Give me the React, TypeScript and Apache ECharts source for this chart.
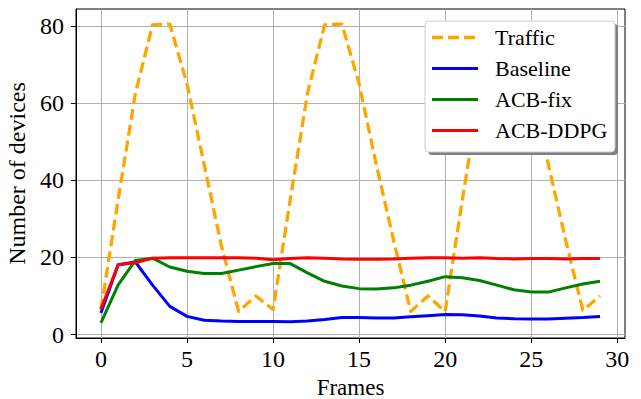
import React, { useEffect, useRef } from "react";
import * as echarts from "echarts";

const frames = [0, 1, 2, 3, 4, 5, 6, 7, 8, 9, 10, 11, 12, 13, 14, 15, 16, 17, 18, 19, 20, 21, 22, 23, 24, 25, 26, 27, 28, 29];
const traffic = [6.5, 35, 62.5, 80.3, 80.5, 65, 44, 23, 6, 10, 6.5, 35, 62.5, 80.3, 80.5, 65, 44, 24.5, 6, 10, 6, 35, 62.5, 80.3, 80.5, 65, 44, 24.5, 6.3, 10];
const baseline = [5.6, 18.1, 18.8, 12.8, 7.3, 4.7, 3.7, 3.5, 3.4, 3.4, 3.4, 3.3, 3.5, 3.9, 4.4, 4.4, 4.3, 4.3, 4.6, 4.9, 5.2, 5.1, 4.8, 4.3, 4.1, 4.0, 4.0, 4.2, 4.4, 4.7];
const acbFix = [3.0, 12.9, 19.2, 19.8, 17.5, 16.4, 15.8, 15.8, 16.7, 17.6, 18.4, 18.4, 16.0, 13.8, 12.6, 11.9, 11.8, 12.1, 12.8, 13.8, 15.0, 14.7, 14.0, 12.8, 11.6, 11.0, 11.0, 12.1, 13.1, 13.8];
const acbDdpg = [6.6, 18.1, 18.6, 19.8, 19.9, 19.9, 19.9, 19.9, 19.9, 19.8, 19.4, 19.7, 19.9, 19.8, 19.6, 19.5, 19.5, 19.6, 19.8, 19.9, 19.9, 19.8, 19.9, 19.7, 19.6, 19.7, 19.7, 19.6, 19.7, 19.7];

const seriesNames = ["Traffic", "Baseline", "ACB-fix", "ACB-DDPG"];
const seriesColors = ["#FFA500", "#0000FF", "#008000", "#FF0000"];
const xTicks = [0, 5, 10, 15, 20, 25, 30];
const yTicks = [0, 20, 40, 60, 80];
const xLabel = "Frames";
const yLabel = "Number of devices";

const FONT = "'Liberation Serif', 'Times New Roman', serif";

export default function App() {
  const ref = useRef<HTMLDivElement>(null);
  useEffect(() => {
    if (!ref.current) return;
    const chart = echarts.init(ref.current, undefined, { renderer: "svg" });
    const allData = [traffic, baseline, acbFix, acbDdpg];
    const series = allData.map((d, i) => ({
      name: seriesNames[i],
      type: "line",
      data: frames.map((f, j) => [f, d[j]]),
      symbol: "none",
      z: i === 0 ? 2 : 3 + i,
      lineStyle: {
        color: seriesColors[i],
        width: i === 0 ? 3.3 : 3,
        type: i === 0 ? [11, 5] : "solid",
        cap: "butt",
        join: "round",
      },
    }));

    const lgX = 425, lgY = 21, lgW = 190, lgH = 131;
    const legendEls: any[] = [
      { type: "rect", shape: { x: lgX + 3, y: lgY + 3, width: lgW, height: lgH, r: 4 }, style: { fill: "#808080" }, z: 100 },
      { type: "rect", shape: { x: lgX, y: lgY, width: lgW, height: lgH, r: 4 }, style: { fill: "#ffffff", stroke: "#cccccc", lineWidth: 1 }, z: 101 },
    ];
    seriesNames.forEach((n, i) => {
      const cy = lgY + 16.5 + i * 31;
      legendEls.push({
        type: "line",
        shape: { x1: lgX + 7, y1: cy, x2: lgX + 53, y2: cy },
        style: { stroke: seriesColors[i], lineWidth: i === 0 ? 3.3 : 3, lineDash: i === 0 ? [11, 5] : null },
        z: 102,
      });
      legendEls.push({
        type: "text",
        x: lgX + 70,
        y: cy,
        style: { text: n, fill: "#000", font: `22px ${FONT}`, textVerticalAlign: "middle", verticalAlign: "middle" },
        z: 102,
      });
    });

    chart.setOption({
      animation: false,
      backgroundColor: "#ffffff",
      grid: { left: 76, top: 9, right: 16, bottom: 61, show: true, borderColor: "#000", borderWidth: 1, backgroundColor: "transparent", containLabel: false, outerBoundsMode: "none" },
      xAxis: {
        type: "value",
        min: -1.45,
        max: 30.45,
        name: xLabel,
        nameLocation: "middle",
        nameGap: 36,
        nameTextStyle: { fontFamily: FONT, fontSize: 23, color: "#000" },
        axisLine: { show: true, onZero: false, lineStyle: { color: "#000", width: 1 } },
        axisTick: { show: true, inside: false, length: 5, customValues: xTicks, lineStyle: { color: "#000", width: 1 } },
        axisLabel: { customValues: xTicks, fontFamily: FONT, fontSize: 24, color: "#000", margin: 9 },
        splitLine: { show: true, lineStyle: { color: "#b0b0b0", width: 1 } },
      },
      yAxis: {
        type: "value",
        min: -0.9,
        max: 84.4,
        name: yLabel,
        nameLocation: "middle",
        nameGap: 36,
        nameTextStyle: { fontFamily: FONT, fontSize: 24, color: "#000" },
        axisLine: { show: true, onZero: false, lineStyle: { color: "#000", width: 1 } },
        axisTick: { show: true, inside: false, length: 5, customValues: yTicks, lineStyle: { color: "#000", width: 1 } },
        axisLabel: { customValues: yTicks, fontFamily: FONT, fontSize: 24, color: "#000", margin: 12 },
        splitLine: { show: true, lineStyle: { color: "#b0b0b0", width: 1 } },
      },
      graphic: legendEls,
      series,
    });
    return () => chart.dispose();
  }, []);
  return <div ref={ref} style={{ width: 641, height: 399, position: "fixed", left: 0, top: 0 }} />;
}
